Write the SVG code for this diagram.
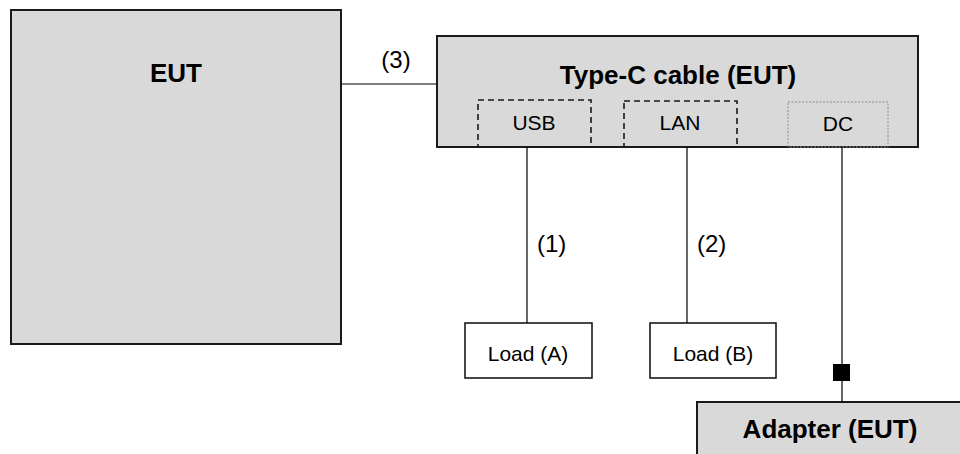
<svg xmlns="http://www.w3.org/2000/svg" width="960" height="454" viewBox="0 0 960 454">
<style>
.box{fill:#d9d9d9;stroke:#1a1a1a;stroke-width:2}
.wbox{fill:#ffffff;stroke:#1a1a1a;stroke-width:1.6}
.dash{fill:none;stroke:#1a1a1a;stroke-width:1.6;stroke-dasharray:6 4}
.dot{fill:none;stroke:#8c8c8c;stroke-width:1;stroke-dasharray:2 1.5}
.wire{fill:none;stroke:#000;stroke-width:1.2}
.t{font-family:"Liberation Sans",Arial,sans-serif;fill:#000}
.b{font-weight:bold;font-size:26px}
.n{font-size:21px}
.l{font-size:24px}
</style>
<rect width="960" height="454" fill="#ffffff"/>
<g id="eut">
<rect class="box" x="11" y="10" width="330" height="334"/>
<text class="t b" x="176" y="82" text-anchor="middle">EUT</text>
</g>
<g id="typec">
<rect class="box" x="437" y="36" width="481" height="111"/>
<text class="t b" x="678" y="84" text-anchor="middle">Type-C cable (EUT)</text>
</g>
<g id="usb">
<rect class="dash" x="478" y="100" width="113" height="47"/>
<text class="t n" x="534" y="130" text-anchor="middle">USB</text>
</g>
<g id="lan">
<rect class="dash" x="624" y="101" width="113" height="46"/>
<text class="t n" x="680" y="130" text-anchor="middle">LAN</text>
</g>
<g id="dc">
<rect class="dot" x="788" y="102" width="100" height="45"/>
<text class="t n" x="838" y="131" text-anchor="middle">DC</text>
</g>
<g id="loadA">
<rect class="wbox" x="465" y="323" width="127" height="55"/>
<text class="t n" x="528" y="361" text-anchor="middle">Load (A)</text>
</g>
<g id="loadB">
<rect class="wbox" x="650" y="323" width="126" height="55"/>
<text class="t n" x="713" y="361" text-anchor="middle">Load (B)</text>
</g>
<g id="adapter">
<rect class="box" x="697" y="402" width="280" height="70"/>
<text class="t b" x="830" y="438" text-anchor="middle">Adapter (EUT)</text>
</g>
<g id="connectors">
<line class="wire" x1="341" y1="84" x2="437" y2="84"/>
<text class="t l" x="396" y="68" text-anchor="middle">(3)</text>
<line class="wire" x1="527" y1="147" x2="527" y2="323"/>
<text class="t l" x="537" y="252">(1)</text>
<line class="wire" x1="687" y1="147" x2="687" y2="323"/>
<text class="t l" x="697" y="252">(2)</text>
<line class="wire" x1="842" y1="147" x2="842" y2="402"/>
<rect x="833" y="364" width="17" height="17" fill="#000"/>
</g>
</svg>
